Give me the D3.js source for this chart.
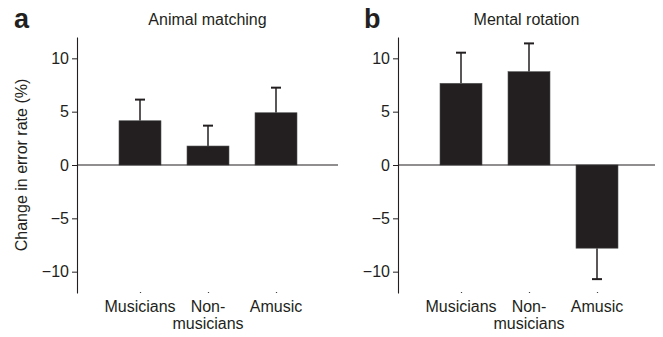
<!DOCTYPE html>
<html>
<head>
<meta charset="utf-8">
<script src="https://cdn.jsdelivr.net/npm/d3@7"></script>
<style>
  body { margin: 0; background: #fff; }
  text { font-family: "Liberation Sans", Arial, sans-serif; fill: #231f20; }
</style>
</head>
<body>
<div id="chart"></div>
<script>
"use strict";

// data
const groups = ["Musicians", "Non-musicians", "Amusic"];
const groupLines = [["Musicians"], ["Non-", "musicians"], ["Amusic"]];
const animalMean = [4.15, 1.78, 4.9];
const animalErr = [1.98, 1.91, 2.35];
const rotationMean = [7.66, 8.75, -7.8];
const rotationErr = [2.87, 2.65, -2.9];
const yTicks = [-10, -5, 0, 5, 10];

const msm = {
    width: 663,
    height: 337,
    top: 37,
    bottom: 293,
    barWidth: 42
}

// each panel: axis x position and zero-line end
const panels = [
    { letter: "a", title: "Animal matching", left: 77, right: 338, mean: animalMean, err: animalErr, letterX: 14 },
    { letter: "b", title: "Mental rotation", left: 398, right: 655, mean: rotationMean, err: rotationErr, letterX: 364 }
]

let svg = d3.select("#chart")
    .append("svg")
    .attr("width", msm.width)
    .attr("height", msm.height);

let yScale = d3.scaleLinear()
    .domain([-12, 12])
    .range([msm.bottom, msm.top]);

panels.forEach(function (p) {
    let g = svg.append("g");

    let xScale = d3.scalePoint()
        .domain(groups)
        .range([p.left + 63, p.left + 199]);

    let rows = groups.map((k, i) => ({ key: k, mean: p.mean[i], err: p.err[i], lines: groupLines[i] }));

    // error bars (single sided, drawn under the bar)
    g.selectAll(".err")
        .data(rows)
        .enter()
        .append("line")
        .attr("x1", d => xScale(d.key))
        .attr("x2", d => xScale(d.key))
        .attr("y1", d => yScale(d.mean))
        .attr("y2", d => yScale(d.mean + d.err))
        .attr("stroke", "#231f20")
        .attr("stroke-width", 1.5);

    g.selectAll(".cap")
        .data(rows)
        .enter()
        .append("line")
        .attr("x1", d => xScale(d.key) - 5)
        .attr("x2", d => xScale(d.key) + 5)
        .attr("y1", d => yScale(d.mean + d.err))
        .attr("y2", d => yScale(d.mean + d.err))
        .attr("stroke", "#231f20")
        .attr("stroke-width", 2);

    // bars
    g.selectAll(".bar")
        .data(rows)
        .enter()
        .append("rect")
        .attr("x", d => xScale(d.key) - msm.barWidth / 2)
        .attr("width", msm.barWidth)
        .attr("y", d => yScale(Math.max(0, d.mean)))
        .attr("height", d => Math.abs(yScale(d.mean) - yScale(0)))
        .attr("fill", "#231f20")
        .attr("stroke", "#555")
        .attr("stroke-width", 0.6);

    // zero line
    g.append("line")
        .attr("x1", p.left)
        .attr("x2", p.right)
        .attr("y1", yScale(0))
        .attr("y2", yScale(0))
        .attr("stroke", "#231f20")
        .attr("stroke-width", 1.1);

    // y axis
    let yAxis = d3.axisLeft(yScale)
        .tickValues(yTicks)
        .tickSize(5)
        .tickSizeOuter(0)
        .tickPadding(3);
    let ya = g.append("g")
        .attr("transform", "translate(" + p.left + ",0)")
        .call(yAxis);
    ya.select(".domain").attr("stroke", "#231f20").attr("stroke-width", 1.1);
    ya.selectAll(".tick line").attr("stroke", "#231f20");
    ya.selectAll(".tick text")
        .attr("fill", "#231f20")
        .style("font-size", "16px")
        .style("font-family", '"Liberation Sans", Arial, sans-serif');

    // little tick marks under each group
    let xAxis = d3.axisBottom(xScale)
        .tickSize(1)
        .tickSizeOuter(0)
        .tickFormat("");
    let xa = g.append("g")
        .attr("transform", "translate(0," + (msm.bottom - 1) + ")")
        .call(xAxis);
    xa.select(".domain").remove();
    xa.selectAll(".tick line").attr("stroke", "#444").attr("stroke-width", 1.2);

    // group labels
    rows.forEach(function (d) {
        d.lines.forEach(function (line, j) {
            g.append("text")
                .attr("x", xScale(d.key))
                .attr("y", 312 + j * 16.5)
                .attr("text-anchor", "middle")
                .style("font-size", "16px")
                .text(line);
        });
    });

    // title
    g.append("text")
        .attr("x", (p.left + p.right) / 2)
        .attr("y", 25)
        .attr("text-anchor", "middle")
        .style("font-size", "16px")
        .text(p.title);

    // panel letter
    g.append("text")
        .attr("x", p.letterX)
        .attr("y", 28)
        .style("font-size", "27px")
        .style("font-weight", "bold")
        .text(p.letter);
});

// y axis label
svg.append("text")
    .attr("transform", "translate(27," + yScale(0) + ") rotate(-90)")
    .attr("text-anchor", "middle")
    .style("font-size", "16px")
    .text("Change in error rate (%)");
</script>
</body>
</html>
